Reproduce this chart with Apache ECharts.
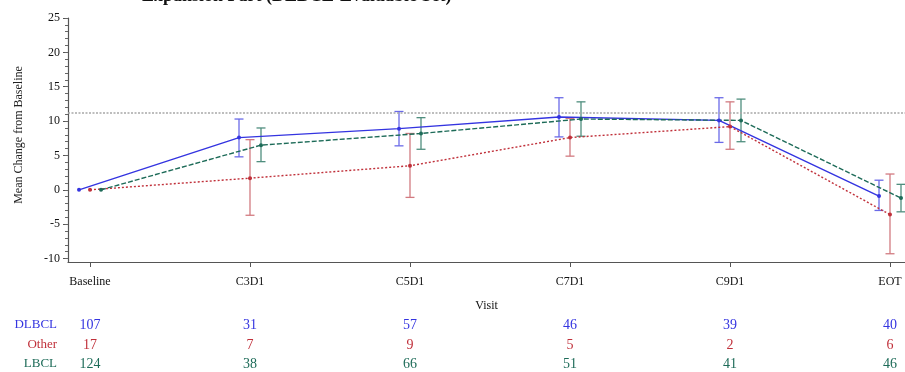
<!DOCTYPE html>
<html>
<head>
<meta charset="utf-8">
<script src="https://cdn.jsdelivr.net/npm/echarts@6/dist/echarts.min.js"></script>
<style>
  html, body { margin: 0; padding: 0; background: #fff; }
  #chart { width: 905px; height: 372px; }
</style>
</head>
<body>
<div id="chart"></div>
<script>
// visits on the x axis
const categories = ['Baseline', 'C3D1', 'C5D1', 'C7D1', 'C9D1', 'EOT'];

// mean change and error bar ends, per group
const dlbclMean = [0, 7.6, 8.9, 10.6, 10.1, -0.9];
const dlbclLow  = [null, 4.8, 6.4, 7.7, 6.9, -3.0];
const dlbclHigh = [null, 10.3, 11.4, 13.4, 13.4, 1.4];

const otherMean = [0, 1.7, 3.5, 7.6, 9.2, -3.6];
const otherLow  = [null, -3.7, -1.1, 4.9, 5.9, -9.3];
const otherHigh = [null, 7.3, 8.2, 10.4, 12.8, 2.3];

const lbclMean = [0, 6.5, 8.2, 10.3, 10.1, -1.2];
const lbclLow  = [null, 4.1, 5.9, 7.8, 7.0, -3.2];
const lbclHigh = [null, 9.0, 10.5, 12.8, 13.2, 0.8];

// patients at each visit
const dlbclN = [107, 31, 57, 46, 39, 40];
const otherN = [17, 7, 9, 5, 2, 6];
const lbclN  = [124, 38, 66, 51, 41, 46];

const refLine = 11.2;
const yTicks = [-10, -5, 0, 5, 10, 15, 20, 25];

const FONT = 'Liberation Serif';
const PX_PER_VISIT = 160;

const groups = [
    {name: 'DLBCL', mean: dlbclMean, low: dlbclLow, high: dlbclHigh, n: dlbclN,
     color: '#3434e0', barColor: '#6a6ae8', dodge: -11, line: 'solid', offset: 63},
    {name: 'Other', mean: otherMean, low: otherLow, high: otherHigh, n: otherN,
     color: '#c0303a', barColor: '#d27a80', dodge: 0, line: [2, 2], offset: 83},
    {name: 'LBCL', mean: lbclMean, low: lbclLow, high: lbclHigh, n: lbclN,
     color: '#1d6b58', barColor: '#4f8e7e', dodge: 11, line: [5, 2], offset: 102}
];

const idx = categories.map((c, i) => i);
const minorTicks = [];
for (let v = -10; v <= 25; v++) minorTicks.push(v);

const chart = echarts.init(document.getElementById('chart'), null, {renderer: 'canvas'});

function errorBar(color, dodge) {
    return function (params, api) {
        if (api.value(1) == null || isNaN(api.value(1))) return;
        const x = api.coord([api.value(0), 0])[0] + dodge;
        const lo = api.coord([api.value(0), api.value(1)])[1];
        const hi = api.coord([api.value(0), api.value(2)])[1];
        const w = 4.5;
        const style = {stroke: color, lineWidth: 1.3};
        return {
            type: 'group',
            children: [
                {type: 'line', shape: {x1: x, y1: lo, x2: x, y2: hi}, style: style},
                {type: 'line', shape: {x1: x - w, y1: lo, x2: x + w, y2: lo}, style: style},
                {type: 'line', shape: {x1: x - w, y1: hi, x2: x + w, y2: hi}, style: style}
            ]
        };
    };
}

const series = [];
groups.forEach((g, gi) => {
    series.push({
        name: g.name + ' bars',
        type: 'custom',
        xAxisIndex: 0,
        yAxisIndex: 0,
        clip: false,
        renderItem: errorBar(g.barColor, g.dodge),
        data: idx.map(i => [i, g.low[i], g.high[i]]),
        z: 2
    });
    const line = {
        name: g.name,
        type: 'line',
        xAxisIndex: 0,
        yAxisIndex: 0,
        data: idx.map(i => [i + g.dodge / PX_PER_VISIT, g.mean[i]]),
        symbol: 'circle',
        symbolSize: 4,
        itemStyle: {color: g.color},
        lineStyle: {color: g.color, width: 1.4, type: g.line},
        z: 3
    };
    if (gi === 0) {
        line.markLine = {
            silent: true,
            symbol: 'none',
            label: {show: false},
            lineStyle: {color: '#a8a8a8', type: [2, 1.5], width: 1.5},
            data: [{yAxis: refLine}]
        };
    }
    series.push(line);
});

const leftPx = 68, rightPx = 905, zeroPx = 90;
const xMin = (leftPx - zeroPx) / PX_PER_VISIT;
const xMax = (rightPx - zeroPx) / PX_PER_VISIT;

const xAxes = [{
    type: 'value',
    min: xMin,
    max: xMax,
    position: 'bottom',
    name: 'Visit',
    nameLocation: 'middle',
    nameGap: 38,
    nameTextStyle: {fontFamily: FONT, fontSize: 12, color: '#111'},
    axisLine: {onZero: false, lineStyle: {color: '#555', width: 1.2}},
    axisTick: {show: true, length: 5, customValues: idx, lineStyle: {color: '#555'}},
    axisLabel: {
        customValues: idx, margin: 14,
        fontFamily: FONT, fontSize: 12, color: '#111',
        formatter: v => categories[Math.round(v)]
    },
    splitLine: {show: false}
}];

// count table rows as extra bottom axes
groups.forEach(g => {
    xAxes.push({
        type: 'value',
        min: xMin,
        max: xMax,
        position: 'bottom',
        offset: g.offset,
        name: g.name,
        nameLocation: 'start',
        nameGap: 11,
        nameTextStyle: {fontFamily: FONT, fontSize: 13, color: g.color, align: 'right', verticalAlign: 'middle'},
        axisLine: {show: false, onZero: false},
        axisTick: {show: false},
        axisLabel: {
            customValues: idx, margin: 0, verticalAlign: 'middle',
            fontFamily: FONT, fontSize: 14, color: g.color,
            formatter: v => String(g.n[Math.round(v)])
        },
        splitLine: {show: false}
    });
});

const option = {
    backgroundColor: '#fff',
    animation: false,
    graphic: [{
        type: 'text',
        left: 142,
        top: -13,
        style: {
            text: 'Expansion Part (DLBCL-Evaluable Set)',
            fontFamily: FONT, fontSize: 18, fontWeight: 'bold', fill: '#111'
        }
    }],
    grid: {left: leftPx, right: 905 - rightPx, top: 18, bottom: 110, containLabel: false},
    xAxis: xAxes,
    yAxis: [{
        type: 'value',
        min: -10.5,
        max: 25,
        name: 'Mean Change from Baseline',
        nameLocation: 'middle',
        nameGap: 43,
        nameRotate: 90,
        nameTextStyle: {fontFamily: FONT, fontSize: 12, color: '#222', padding: [0, 0, 0, 10]},
        axisLine: {show: true, onZero: false, lineStyle: {color: '#555', width: 1.2}},
        axisTick: {show: true, length: 5, customValues: yTicks, lineStyle: {color: '#555'}},
        axisLabel: {customValues: yTicks, margin: 8, fontFamily: FONT, fontSize: 12, color: '#111'},
        splitLine: {show: false}
    }, {
        type: 'value',
        min: -10.5,
        max: 25,
        position: 'left',
        axisLine: {show: false, onZero: false},
        axisTick: {show: true, length: 3, customValues: minorTicks, lineStyle: {color: '#666'}},
        axisLabel: {show: false},
        splitLine: {show: false}
    }],
    series: series
};

chart.setOption(option);
</script>
</body>
</html>
